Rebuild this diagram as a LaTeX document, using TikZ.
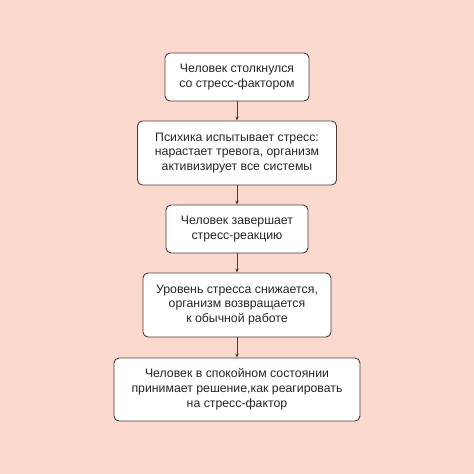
\documentclass[tikz,border=0pt]{standalone}
\usepackage{fontspec}
\setmainfont{Liberation Sans}
\usetikzlibrary{arrows.meta}
\definecolor{bgpink}{HTML}{FBD9CF}
\definecolor{lineclr}{HTML}{4A3C38}
\tikzset{
  stepbox/.style={draw=lineclr, line width=0.9pt, fill=white, rounded corners=5pt,
    align=center, inner sep=0pt, font=\fontsize{12.3}{14.8}\selectfont, text=black!85},
  flow/.style={draw=lineclr, line width=0.8pt, -{Stealth[length=4pt,width=3.5pt]}}
}
\begin{document}
\begin{tikzpicture}[x=1pt,y=1pt]
\fill[bgpink] (0,0) rectangle (474,474);
\useasboundingbox (0,0) rectangle (474,474);
\node[stepbox, minimum width=144pt, minimum height=48pt] (b1) at (237,397) {Человек столкнулся\\со стресс-фактором};
\node[stepbox, minimum width=199pt, minimum height=64pt] (b2) at (237,321) {Психика испытывает стресс:\\нарастает тревога, организм\\активизирует все системы};
\node[stepbox, minimum width=142pt, minimum height=48pt] (b3) at (237,245) {Человек завершает\\стресс-реакцию};
\node[stepbox, minimum width=188pt, minimum height=64pt] (b4) at (237,169) {Уровень стресса снижается,\\организм возвращается\\к обычной работе};
\node[stepbox, minimum width=246pt, minimum height=63pt] (b5) at (237,84.5) {Человек в спокойном состоянии\\принимает решение,как реагировать\\на стресс-фактор};
\draw[flow] (b1) -- (b2);
\draw[flow] (b2) -- (b3);
\draw[flow] (b3) -- (b4);
\draw[flow] (b4) -- (b5);
\end{tikzpicture}
\end{document}
